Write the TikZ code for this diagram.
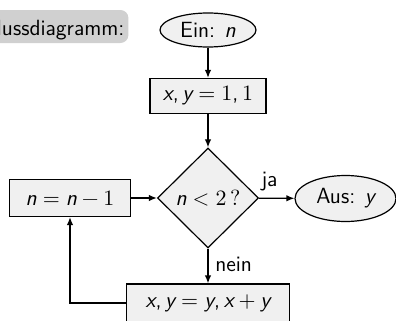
\documentclass[tikz,border=0pt]{standalone}
\usepackage{fontspec}
\renewcommand{\familydefault}{\sfdefault}
\usepackage[italic]{mathastext}
\usetikzlibrary{shapes.geometric,arrows.meta}
\definecolor{nodefill}{RGB}{240,240,240}
\definecolor{lblfill}{RGB}{208,208,208}
\newcommand{\sfminus}{\mathbin{\mbox{\char"2212}}}
\begin{document}
\begin{tikzpicture}[x=0.5pt,y=-0.5pt,
  font=\fontsize{11}{13}\selectfont\sffamily,
  line width=0.6pt,
  base/.style={draw=black,fill=nodefill,inner sep=0pt},
  io/.style={base,ellipse},
  proc/.style={base,rectangle},
  dec/.style={base,diamond,aspect=1},
  lbl/.style={fill=lblfill,rounded corners=4pt,inner sep=0pt,minimum height=16.5pt,text depth=0pt},
  arr/.style={-{Latex[length=4pt,width=3.2pt]}}]
\useasboundingbox (0,0) rectangle (396,321);
\clip (0,0) rectangle (396,321);
\node[lbl,anchor=east,align=right] (lbl) at (129,26.5) {\strut Flussdiagramm:\hspace{2pt}};
\node[io,minimum width=48pt,minimum height=17pt] (ein) at (208,30) {Ein: $n$};
\node[proc,minimum width=58pt,minimum height=17.5pt] (init) at (208,96) {$x, y = 1, 1$};
\node[dec,minimum width=50.5pt,minimum height=50pt] (test) at (208,198) {$n < 2\,?$};
\node[io,minimum width=50.5pt,minimum height=23pt] (aus) at (345.5,198.5) {Aus: $y$};
\node[proc,minimum width=60.5pt,minimum height=18.5pt] (dec) at (70,198) {$n = n \sfminus 1$};
\node[proc,minimum width=81.5pt,minimum height=19pt] (step) at (208,303) {$x, y = y, x + y$};
\coordinate (corner) at (70,303);
\draw[arr] (ein) -- (init);
\draw[arr] (init) -- (test);
\draw[arr] (test) -- node[above,pos=0.3] {ja} (aus);
\draw[arr] (test) -- node[right,pos=0.45] {nein} (step);
\draw[arr] (dec) -- (test);
\draw[arr] (step.west) -- (corner) -- (dec.south);
\end{tikzpicture}
\end{document}
